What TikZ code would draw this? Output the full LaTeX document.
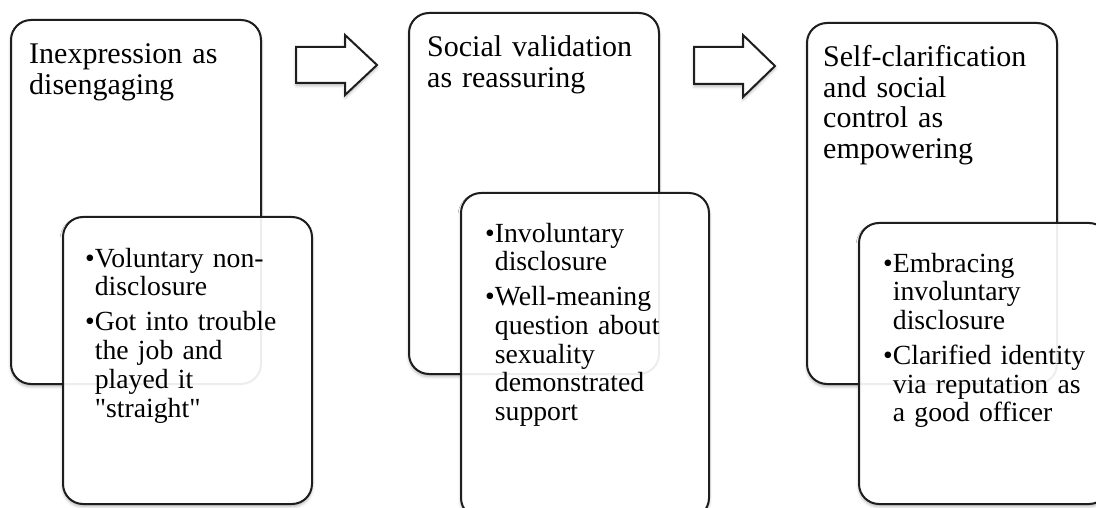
\documentclass[tikz,border=0pt]{standalone}
\usepackage{fontspec}
\setmainfont{Liberation Serif}
\usetikzlibrary{shadows.blur}
\definecolor{edge}{HTML}{1E1E1E}
\tikzset{
  x=1pt, y=-1pt,
  softshadow/.style={blur shadow={shadow xshift=0pt, shadow yshift=-2.5pt,
      shadow blur radius=3pt, shadow opacity=30}},
  card/.style={draw=edge, line width=2pt, rounded corners=20pt, fill=white,
      inner sep=0pt, anchor=north west, softshadow},
  ghost/.style={draw=edge, draw opacity=0.08, line width=2pt, rounded corners=20pt,
      inner sep=0pt, anchor=north west},
  title/.style={anchor=base west, inner sep=0pt, text width=240pt, align=left,
      font=\fontsize{30}{30.5}\selectfont},
  bullets/.style={anchor=base west, inner sep=0pt, text width=240pt, align=left,
      font=\fontsize{27.7}{28.8}\selectfont},
  blockarrow/.style={draw=edge, line width=2pt, fill=white, line join=miter, softshadow}
}
\newcommand{\cont}{\hphantom{•}}
\begin{document}
\begin{tikzpicture}
\useasboundingbox (0,0) rectangle (1096,508);
\clip (0,0) rectangle (1096,508);

% stage 1
\node[card, minimum width=250pt, minimum height=364pt] (big1) at (10,19) {};
\node[card, minimum width=249pt, minimum height=287pt] (small1) at (62,216) {};
\node[ghost, minimum width=250pt, minimum height=364pt] (edge1) at (10,19) {};
\node[title] (t1) at (29,64) {Inexpression as\\disengaging};
\node[bullets] (b1) at (85,267) {•Voluntary non-\\\cont disclosure\\[6pt]%
  •Got into trouble\\\cont the job and\\\cont played it\\\cont \textquotedbl straight\textquotedbl};

% stage 2
\node[card, minimum width=250pt, minimum height=361pt] (big2) at (408,12) {};
\node[card, minimum width=248pt, minimum height=325pt] (small2) at (460,192) {};
\node[ghost, minimum width=250pt, minimum height=361pt] (edge2) at (408,12) {};
\node[title] (t2) at (427,57) {Social validation\\as reassuring};
\node[bullets] (b2) at (485,242) {•Involuntary\\\cont disclosure\\[6pt]%
  •Well-meaning\\\cont question about\\\cont sexuality\\\cont demonstrated\\\cont support};

% stage 3
\node[card, minimum width=250pt, minimum height=361pt] (big3) at (806,22) {};
\node[card, minimum width=250pt, minimum height=281pt] (small3) at (858,222) {};
\node[ghost, minimum width=250pt, minimum height=361pt] (edge3) at (806,22) {};
\node[title] (t3) at (823,67) {Self-clarification\\and social\\control as\\empowering};
\node[bullets] (b3) at (883,272) {•Embracing\\\cont involuntary\\\cont disclosure\\[6pt]%
  •Clarified identity\\\cont via reputation as\\\cont a good officer};

% block arrows between the stages
\draw[blockarrow] (296,47) -- (345,47) -- (345,35) -- (377,65) -- (345,95)
  -- (345,83) -- (296,83) -- cycle;
\draw[blockarrow] (694,47) -- (743,47) -- (743,35) -- (775,66) -- (743,97)
  -- (743,84) -- (694,84) -- cycle;
\end{tikzpicture}
\end{document}
